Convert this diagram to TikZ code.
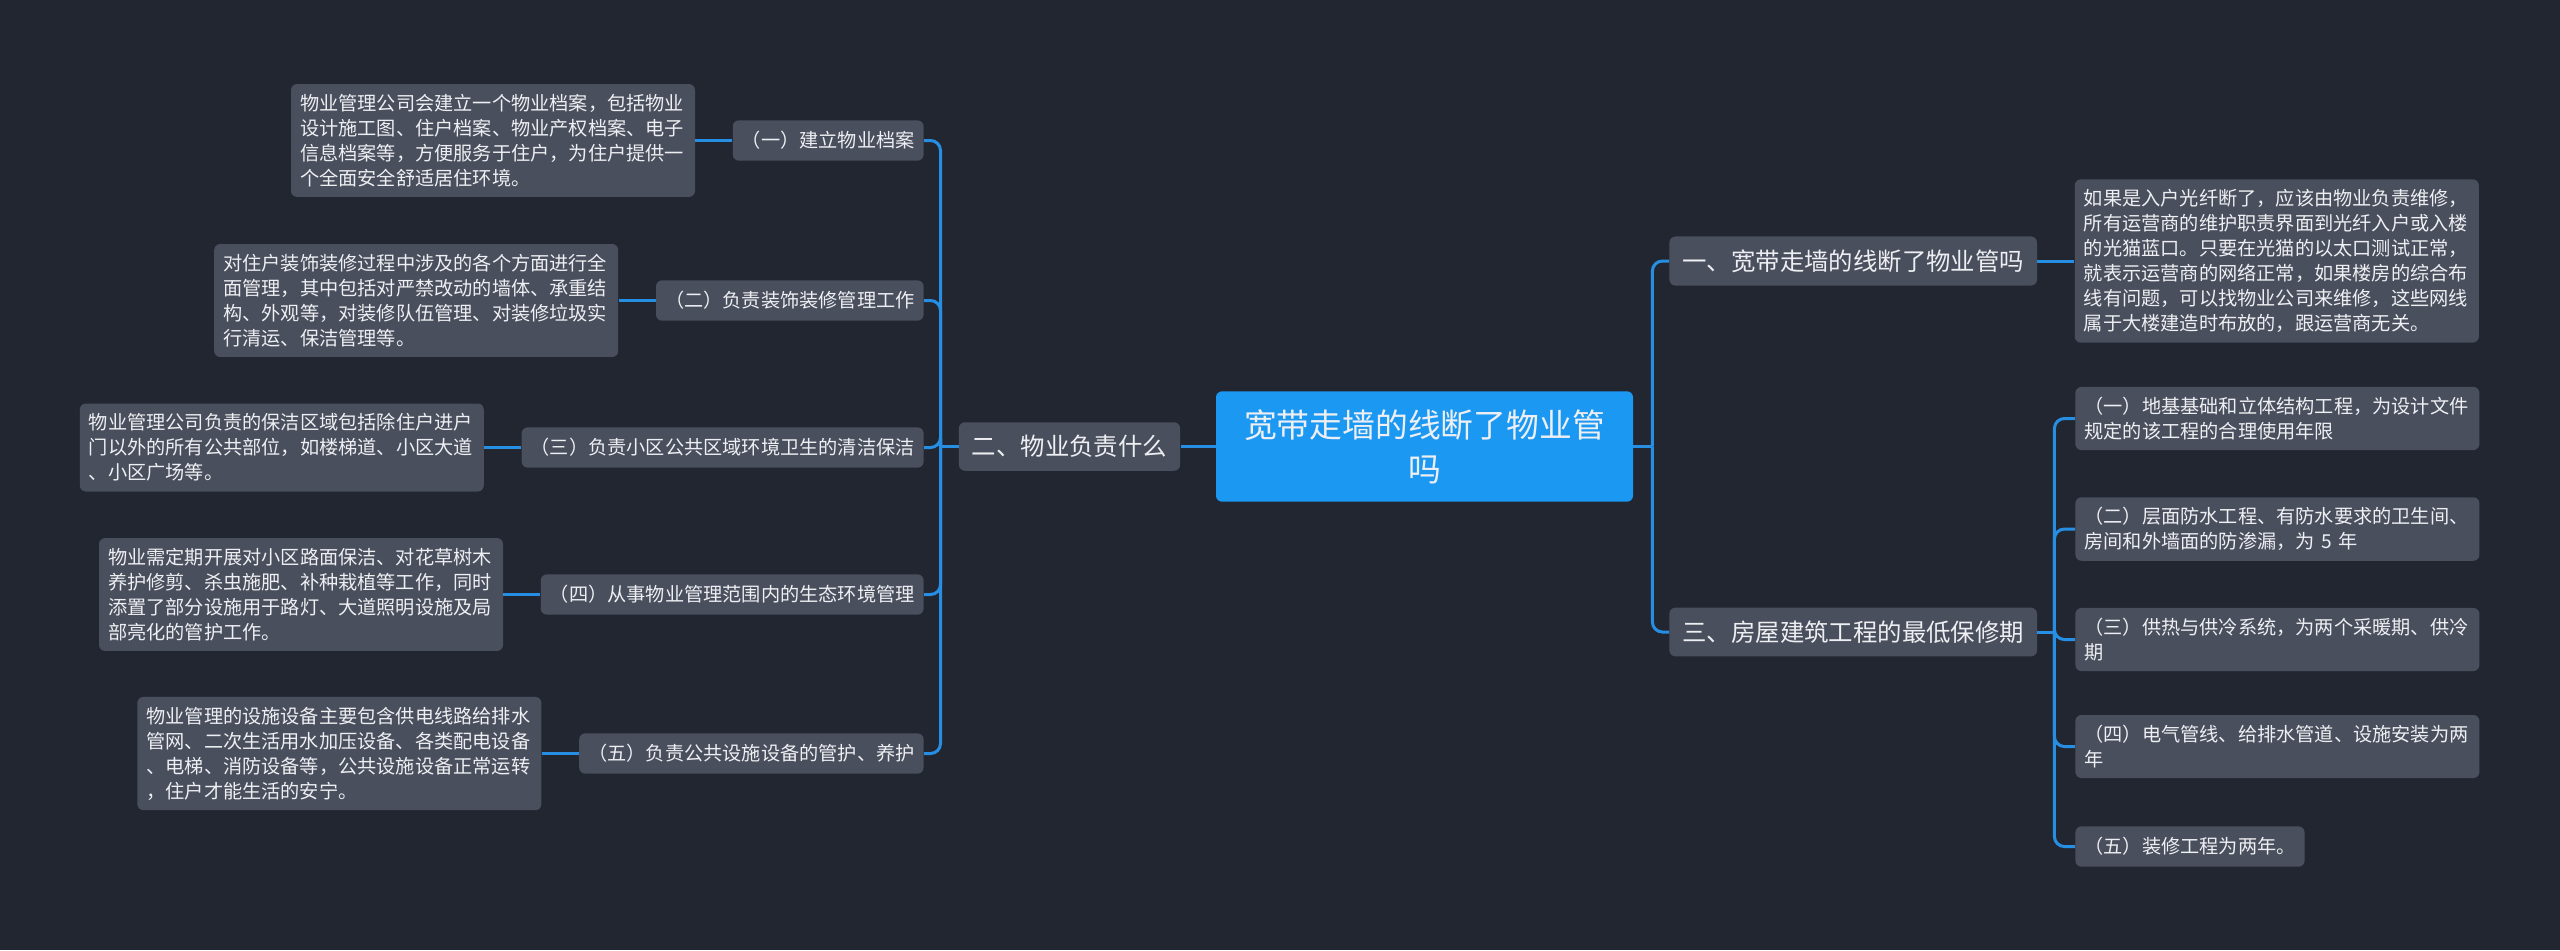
\documentclass[tikz,border=0pt]{standalone}
\usepackage{fontspec}
\setmainfont{Noto Sans CJK SC}
\usetikzlibrary{positioning}

\definecolor{bgdark}{RGB}{34,38,49}
\definecolor{nodegray}{RGB}{74,79,94}
\definecolor{rootblue}{RGB}{27,152,242}
\definecolor{linkblue}{RGB}{38,143,228}
\definecolor{txtwhite}{RGB}{238,239,242}

\begin{document}
\begin{tikzpicture}[x=0.5pt,y=-0.5pt,
  box/.style={fill=nodegray, text=txtwhite, rounded corners=3pt,
    inner xsep=4.5pt, inner ysep=5pt},
  root/.style={box, fill=rootblue, font=\fontsize{16.4}{22}\selectfont,
    text width=186pt, align=center, inner xsep=11.25pt, inner ysep=9pt},
  topic/.style={box, font=\fontsize{12.2}{15}\selectfont,
    inner xsep=6.5pt, inner ysep=6.5pt},
  sub/.style={box, font=\fontsize{9.6}{12.5}\selectfont, inner ysep=5.5pt},
  leaf/.style={box, font=\fontsize{9.6}{12.5}\selectfont,
    text width=193pt, align=left},
  link/.style={draw=linkblue, line width=1.5pt, rounded corners=5pt},
  node distance=18.5pt]

  \fill[bgdark] (0,0) rectangle (2560,950);
  \useasboundingbox (0,0) rectangle (2560,950);

  % centre
  \node[root] (root) at (1424.5,446.5) {宽带走墙的线断了物业管\\吗};

  % left branch
  \node[topic] (t2) at (1069.5,446.5) {二、物业负责什么};

  \node[sub, anchor=east] (c1) at (924,140.5) {（一）建立物业档案};
  \node[sub, anchor=east] (c2) at (924,300.5) {（二）负责装饰装修管理工作};
  \node[sub, anchor=east] (c3) at (924,447.5) {（三）负责小区公共区域环境卫生的清洁保洁};
  \node[sub, anchor=east] (c4) at (924,594.5) {（四）从事物业管理范围内的生态环境管理};
  \node[sub, anchor=east] (c5) at (924,753.5) {（五）负责公共设施设备的管护、养护};

  \node[leaf, left=of c1] (l1) {物业管理公司会建立一个物业档案，包括物业\\
    设计施工图、住户档案、物业产权档案、电子\\
    信息档案等，方便服务于住户，为住户提供一\\
    个全面安全舒适居住环境。};
  \node[leaf, left=of c2] (l2) {对住户装饰装修过程中涉及的各个方面进行全\\
    面管理，其中包括对严禁改动的墙体、承重结\\
    构、外观等，对装修队伍管理、对装修垃圾实\\
    行清运、保洁管理等。};
  \node[leaf, left=of c3] (l3) {物业管理公司负责的保洁区域包括除住户进户\\
    门以外的所有公共部位，如楼梯道、小区大道\\
    、小区广场等。};
  \node[leaf, left=of c4] (l4) {物业需定期开展对小区路面保洁、对花草树木\\
    养护修剪、杀虫施肥、补种栽植等工作，同时\\
    添置了部分设施用于路灯、大道照明设施及局\\
    部亮化的管护工作。};
  \node[leaf, left=of c5] (l5) {物业管理的设施设备主要包含供电线路给排水\\
    管网、二次生活用水加压设备、各类配电设备\\
    、电梯、消防设备等，公共设施设备正常运转\\
    ，住户才能生活的安宁。};

  % right branch
  \node[topic, anchor=west] (t1) at (1669,261) {一、宽带走墙的线断了物业管吗};
  \node[topic, anchor=west] (t3) at (1669,632) {三、房屋建筑工程的最低保修期};

  \node[leaf, right=of t1] (r1) {如果是入户光纤断了，应该由物业负责维修，\\
    所有运营商的维护职责界面到光纤入户或入楼\\
    的光猫蓝口。只要在光猫的以太口测试正常，\\
    就表示运营商的网络正常，如果楼房的综合布\\
    线有问题，可以找物业公司来维修，这些网线\\
    属于大楼建造时布放的，跟运营商无关。};

  \node[leaf, anchor=west] (k1) at (2075,418.5) {（一）地基基础和立体结构工程，为设计文件\\
    规定的该工程的合理使用年限};
  \node[leaf, anchor=west] (k2) at (2075,529) {（二）层面防水工程、有防水要求的卫生间、\\
    房间和外墙面的防渗漏，为 5 年};
  \node[leaf, anchor=west] (k3) at (2075,639.5) {（三）供热与供冷系统，为两个采暖期、供冷\\
    期};
  \node[leaf, anchor=west] (k4) at (2075,746.5) {（四）电气管线、给排水管道、设施安装为两\\
    年};
  \node[sub, anchor=west] (k5) at (2075,846.5) {（五）装修工程为两年。};

  % connectors
  \draw[link] (root.west) -- (t2.east);
  \draw[link] (t2.west) -- ++(-18,0) coordinate (j2);
  \foreach \c in {c1,c2,c3,c4,c5}
    \draw[link] (j2) |- (\c.east);
  \foreach \c in {1,...,5}
    \draw[link] (l\c.east) -- (c\c.west);

  \draw[link] (root.east) -- ++(19,0) coordinate (j0);
  \foreach \c in {t1,t3}
    \draw[link] (j0) |- (\c.west);
  \draw[link] (t1.east) -- (r1.west);
  \draw[link] (t3.east) -- ++(17,0) coordinate (j3);
  \foreach \c in {k1,k2,k3,k4,k5}
    \draw[link] (j3) |- (\c.west);
\end{tikzpicture}
\end{document}
